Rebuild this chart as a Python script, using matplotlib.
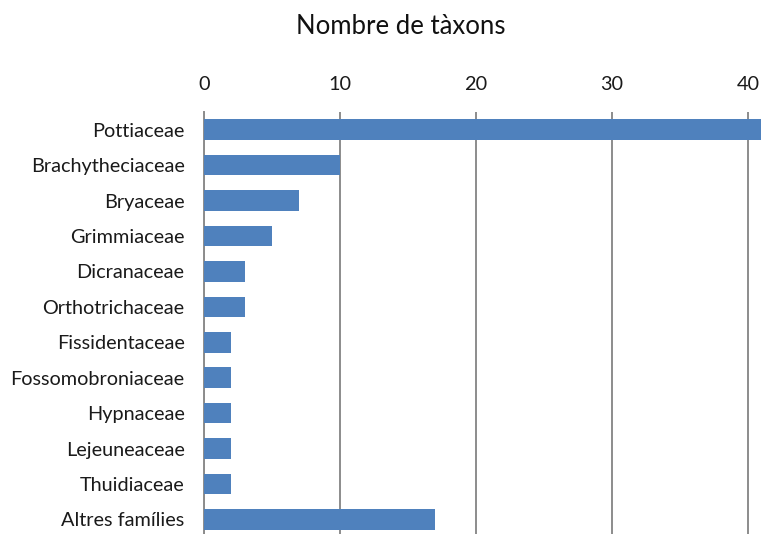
import matplotlib
matplotlib.use("Agg")
import matplotlib.pyplot as plt

# Families and number of taxa per family
families = ["Pottiaceae", "Brachytheciaceae", "Bryaceae", "Grimmiaceae",
            "Dicranaceae", "Orthotrichaceae", "Fissidentaceae",
            "Fossomobroniaceae", "Hypnaceae", "Lejeuneaceae",
            "Thuidiaceae", "Altres famílies"]
n_taxa = [42, 10, 7, 5, 3, 3, 2, 2, 2, 2, 2, 17]
x_ticks = [0, 10, 20, 30, 40]

BAR_COLOR = "#4F81BD"
GRID_COLOR = "#8C8C8C"

plt.rcParams["font.family"] = ["Lato", "DejaVu Sans"]

W, H = 761, 534
fig = plt.figure(figsize=(W / 100, H / 100), dpi=100)
# axes box in pixels: left 204, right 761, top 112, bottom 534
ax = fig.add_axes([204 / W, 0, (W - 204) / W, (H - 112) / H])

pos = list(range(len(families)))
ax.barh(pos, n_taxa, height=0.58, color=BAR_COLOR, zorder=3)

ax.set_xlim(0, (W - 204) / 13.6)
ax.set_ylim(11.41, -0.5)
ax.set_yticks(pos)
ax.set_yticklabels(families, fontsize=14.3, color="#1a1a1a")
ax.xaxis.tick_top()
ax.set_xticks(x_ticks)
ax.set_xticklabels([str(t) for t in x_ticks], fontsize=14.3, color="#1a1a1a")
ax.tick_params(axis="both", length=0)
ax.tick_params(axis="y", pad=14)
ax.tick_params(axis="x", pad=14)

ax.grid(axis="x", color=GRID_COLOR, linewidth=1.4, zorder=1)
for spine in ("top", "right", "bottom"):
    ax.spines[spine].set_visible(False)
ax.spines["left"].set_color(GRID_COLOR)
ax.spines["left"].set_linewidth(1.4)

fig.text(401 / W, 1 - 26 / H, "Nombre de tàxons", fontsize=18.5,
         ha="center", va="center", color="#111111")

fig.savefig("out.png", dpi=100)
